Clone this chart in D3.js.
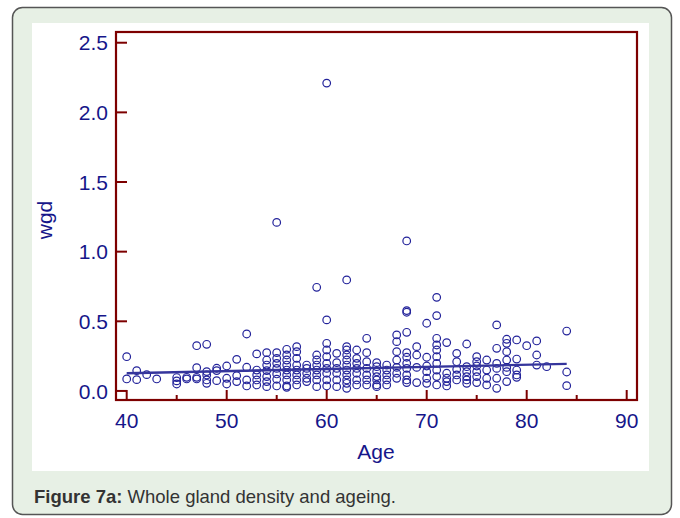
<!DOCTYPE html>
<html><head><meta charset="utf-8">
<script src="https://cdn.jsdelivr.net/npm/d3@7/dist/d3.min.js"></script>
<style>
html,body{margin:0;padding:0;background:#fff;}
svg{display:block;}
</style></head>
<body>
<svg id="chart" width="680" height="518"></svg>
<script>
// ---- data ----
const ageCols = [40,41,42,43,45,46,47,48,49,50,51,52,53,54,55,56,57,58,59,60,61,62,63,64,65,66,67,68,69,70,71,72,73,74,75,76,77,78,79,80,81,82,84];
const wgdCols = [
 [0.246,0.086],
 [0.146,0.081],
 [0.117],
 [0.086],
 [0.096,0.072,0.05],
 [0.098,0.086],
 [0.325,0.167,0.086,0.098],
 [0.335,0.139,0.115,0.079,0.055],
 [0.163,0.146,0.074],
 [0.179,0.091,0.05],
 [0.227,0.11,0.067],
 [0.409,0.17,0.079,0.036],
 [0.266,0.15,0.115,0.079,0.043],
 [0.275,0.222,0.186,0.146,0.103,0.067,0.031],
 [1.21,0.275,0.234,0.198,0.162,0.122,0.084,0.036],
 [0.299,0.258,0.222,0.186,0.15,0.115,0.079,0.036,0.026],
 [0.318,0.282,0.234,0.186,0.15,0.115,0.079,0.043],
 [0.186,0.162,0.127,0.091,0.067],
 [0.744,0.258,0.222,0.186,0.15,0.115,0.079,0.031],
 [2.21,0.51,0.342,0.294,0.246,0.198,0.162,0.127,0.079,0.036],
 [0.27,0.203,0.162,0.127,0.079,0.031],
 [0.797,0.318,0.294,0.258,0.222,0.186,0.15,0.115,0.079,0.055,0.019],
 [0.294,0.234,0.198,0.162,0.127,0.079,0.043],
 [0.378,0.275,0.21,0.162,0.115,0.079,0.043],
 [0.203,0.174,0.138,0.103,0.079,0.043,0.031],
 [0.186,0.15,0.115,0.079,0.043],
 [0.402,0.354,0.282,0.222,0.169,0.127,0.091],
 [1.077,0.577,0.565,0.421,0.275,0.242,0.198,0.162,0.115,0.079,0.06],
 [0.318,0.258,0.169,0.06],
 [0.486,0.242,0.179,0.138,0.091,0.055],
 [0.672,0.541,0.378,0.33,0.294,0.246,0.198,0.15,0.103,0.043],
 [0.347,0.127,0.091,0.067,0.036],
 [0.27,0.21,0.155,0.115,0.079],
 [0.337,0.174,0.138,0.103,0.079,0.055],
 [0.246,0.21,0.179,0.138,0.103,0.06],
 [0.222,0.15,0.091,0.043],
 [0.474,0.306,0.198,0.162,0.091,0.019],
 [0.371,0.342,0.282,0.222,0.169,0.138,0.067],
 [0.366,0.229,0.15,0.115,0.098],
 [0.325],
 [0.359,0.258,0.186],
 [0.174],
 [0.43,0.136,0.038]
];
const fitAge = [40, 84];
const fitWgd = [0.127, 0.194];
const xTicks = [40,50,60,70,80,90];
const xMinorTicks = [45,55,65,75,85];
const yTicks = [0,0.5,1.0,1.5,2.0,2.5];
const xDomain = [38.93, 91.03];
const yDomain = [-0.065, 2.577];

const points = [];
ageCols.forEach((a,i)=>wgdCols[i].forEach(v=>points.push({age:a, wgd:v})));

// ---- drawing ----
const svg = d3.select("#chart");
const navy = "#16168a";
const frameCol = "#7d0000";
const font = "Liberation Sans, Arial, sans-serif";

// outer box
svg.append("rect").attr("x",12.5).attr("y",7.5).attr("width",659).attr("height",507)
  .attr("rx",10).attr("fill","#e7f0e5").attr("stroke","#555").attr("stroke-width",1.5);
svg.append("rect").attr("x",32).attr("y",23).attr("width",617).attr("height",448).attr("fill","#fff");

const x = d3.scaleLinear().domain(xDomain).range([116,637]);
const y = d3.scaleLinear().domain(yDomain).range([400,32]);

const g = svg.append("g");

// points
g.selectAll("circle.pt").data(points).enter().append("circle")
  .attr("class","pt")
  .attr("cx",d=>x(d.age)).attr("cy",d=>y(d.wgd)).attr("r",3.8)
  .attr("fill","none").attr("stroke","#22229a").attr("stroke-width",1.2);

// fit line
g.append("path").datum(fitAge.map((a,i)=>[a,fitWgd[i]]))
  .attr("d", d3.line().x(d=>x(d[0])).y(d=>y(d[1])))
  .attr("stroke","#35359c").attr("stroke-width",2.4).attr("fill","none");

// ticks (inward)
const tk = svg.append("g").attr("stroke",frameCol).attr("stroke-width",2);
yTicks.forEach(t=>{
  tk.append("line").attr("x1",x(xDomain[0])).attr("x2",x(xDomain[0])+11)
    .attr("y1",y(t)).attr("y2",y(t));
});
xTicks.forEach(t=>{
  tk.append("line").attr("x1",x(t)).attr("x2",x(t))
    .attr("y1",y(yDomain[0])).attr("y2",y(yDomain[0])-10);
});
xMinorTicks.forEach(t=>{
  tk.append("line").attr("x1",x(t)).attr("x2",x(t))
    .attr("y1",y(yDomain[0])).attr("y2",y(yDomain[0])-5);
});

// frame
svg.append("rect").attr("x",x(xDomain[0])).attr("y",y(yDomain[1]))
  .attr("width",x(xDomain[1])-x(xDomain[0])).attr("height",y(yDomain[0])-y(yDomain[1]))
  .attr("fill","none").attr("stroke",frameCol).attr("stroke-width",2.2);

// tick labels
svg.selectAll("text.yt").data(yTicks).enter().append("text")
  .attr("class","yt").attr("x",108).attr("y",d=>y(d)).attr("dy","0.36em")
  .attr("text-anchor","end").attr("font-family",font).attr("font-size",21)
  .attr("fill",navy).text(d=>d.toFixed(1));
svg.selectAll("text.xt").data(xTicks).enter().append("text")
  .attr("class","xt").attr("x",d=>x(d)).attr("y",428)
  .attr("text-anchor","middle").attr("font-family",font).attr("font-size",21)
  .attr("fill",navy).text(d=>d);

// axis titles
svg.append("text").attr("x",376).attr("y",459).attr("text-anchor","middle")
  .attr("font-family",font).attr("font-size",21).attr("fill",navy).text("Age");
svg.append("text").attr("transform","translate(52,220) rotate(-90)").attr("text-anchor","middle")
  .attr("font-family",font).attr("font-size",21).attr("fill",navy).text("wgd");

// caption
const cap = svg.append("text").attr("x",34).attr("y",503)
  .attr("font-family",font).attr("font-size",18.5).attr("fill","#333");
cap.append("tspan").attr("font-weight","bold").text("Figure 7a:");
cap.append("tspan").text(" Whole gland density and ageing.");
</script>
</body></html>
